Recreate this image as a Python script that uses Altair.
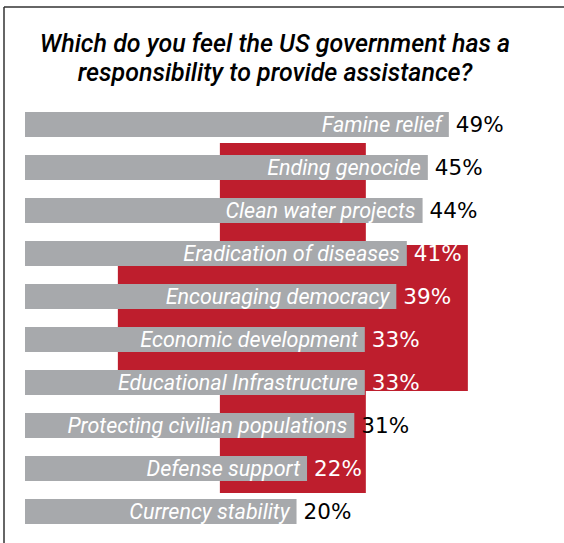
import altair as alt
import pandas as pd

categories = [
    "Famine relief",
    "Ending genocide",
    "Clean water projects",
    "Eradication of diseases",
    "Encouraging democracy",
    "Economic development",
    "Educational Infrastructure",
    "Protecting civilian populations",
    "Defense support",
    "Currency stability",
]
values = [49, 45, 44, 41, 39, 33, 33, 31, 22, 20]
pct_labels = [f"{v}%" for v in values]

title_lines = [
    "Which do you feel the US government has a",
    "responsibility to provide assistance?",
]

GRAY = "#A7A9AC"
RED = "#BE1E2D"

df = pd.DataFrame({
    "category": categories,
    "value": values,
    "label": pct_labels,
    "rank": list(range(len(categories))),
})

W, H = 500, 430
X_MIN, X_MAX = -31.7, 63.5
x_scale = alt.Scale(domain=[X_MIN, X_MAX], nice=False, zero=False, padding=0)
y_scale = alt.Scale(domain=[-0.5, len(categories) - 0.5], reverse=True, nice=False,
                    zero=False, padding=0)

X = alt.X("value:Q", scale=x_scale, axis=None)
Y = alt.Y("rank:Q", scale=y_scale, axis=None)

# decorative red cross behind the bars, centred between the middle rows
cross_path = ("M-0.417,-1L0.417,-1L0.417,-0.417L1,-0.417L1,0.417L0.417,0.417"
              "L0.417,1L-0.417,1L-0.417,0.417L-1,0.417L-1,-0.417L-0.417,-0.417Z")
cross_df = pd.DataFrame({"value": [19.3], "rank": [(len(categories) - 1) / 2]})
cross = alt.Chart(cross_df).mark_point(
    shape=cross_path, filled=True, fill=RED, opacity=1, strokeWidth=0, size=350 * 350
).encode(x=X, y=Y)

bars = alt.Chart(df).mark_bar(orient="horizontal", size=25, color=GRAY).encode(
    x=X, x2=alt.datum(X_MIN), y=Y
)

names = alt.Chart(df).mark_text(
    align="right", baseline="middle", dx=-7, dy=1, font="Roboto", fontStyle="italic",
    fontSize=21.5, color="white"
).encode(x=X, y=Y, text="category:N")

pcts = alt.Chart(df).mark_text(
    align="left", baseline="middle", dx=7, dy=1, font="DejaVu Sans", fontSize=21.5
).encode(
    x=X, y=Y, text="label:N",
    color=alt.condition(
        "(datum.rank >= 3 && datum.rank <= 6) || datum.rank == 8",
        alt.value("white"), alt.value("black"),
    ),
)

one = pd.DataFrame({"a": [0]})
frame_left = alt.Chart(one).mark_rule(color="#333333", strokeWidth=1.5).encode(
    x=alt.value(-21), y=alt.value(-96), y2=alt.value(H + 12)
)
frame_top = alt.Chart(one).mark_rule(color="#333333", strokeWidth=1.5).encode(
    x=alt.value(-21), x2=alt.value(W + 40), y=alt.value(-96)
)

chart = alt.layer(cross, bars, names, pcts, frame_left, frame_top).properties(
    width=W, height=H,
    title=alt.TitleParams(
        text=title_lines, font="Roboto", fontStyle="italic", fontWeight=500,
        fontSize=25, color="black", anchor="middle", lineHeight=29,
        baseline="alphabetic", offset=-100,
    ),
    autosize=alt.AutoSizeParams(type="none"),
    padding={"left": 25, "top": 103, "right": 39, "bottom": 10},
).configure_view(stroke=None)

chart.save("out.html", embed_options={"renderer": "svg", "actions": False})
